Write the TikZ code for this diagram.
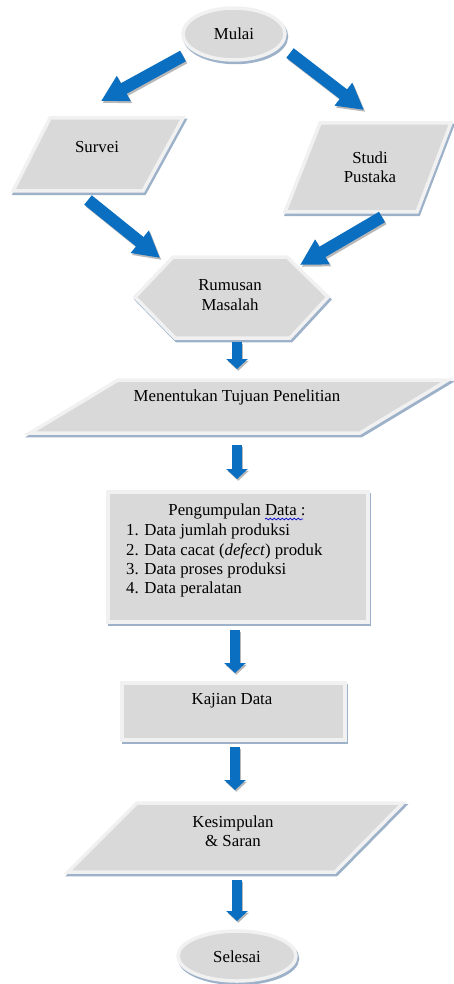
\documentclass[tikz,border=0pt]{standalone}
\usepackage{fontspec}
\setmainfont{Liberation Serif}
\usetikzlibrary{arrows.meta,decorations.pathmorphing}
\definecolor{fillg}{HTML}{D9D9D9}
\definecolor{edgeg}{HTML}{F1F1F1}
\definecolor{shad}{HTML}{9DB1C9}
\definecolor{arrb}{HTML}{0B6FC1}
\definecolor{arrs}{HTML}{B8B8B8}
\newcommand\bevelshape[1]{%
  \filldraw[shadowbox,transform canvas={shift={(1.5,2.5)}}] #1;
  \filldraw[shapebox] #1;}
\begin{document}
\begin{tikzpicture}[x=1pt,y=-1pt,
  font=\fontsize{16.8}{19.3}\selectfont,
  shapebox/.style={fill=fillg,draw=edgeg,line width=3.5pt,line join=miter},
  shadowbox/.style={fill=shad,draw=shad,line width=3.5pt,line join=miter},
  bigarrow/.style={draw=arrb,line width=12pt,-{Triangle[length=26pt,width=27pt]}},
  bigshadow/.style={draw=arrs,line width=12pt,-{Triangle[length=26pt,width=27pt]},transform canvas={shift={(1.5,2)}}},
  smallarrow/.style={draw=arrb,line width=10pt,-{Triangle[length=10pt,width=21pt]}},
  smallshadow/.style={draw=arrs,line width=10pt,-{Triangle[length=10pt,width=21pt]},transform canvas={shift={(1.2,1.8)}}},
  label/.style={inner sep=0pt,align=center,text=black}]
\useasboundingbox (0,0) rectangle (454,984);

% shapes
\filldraw[shadowbox,transform canvas={shift={(1.5,2.5)}}] (234,34) ellipse [x radius=51, y radius=26];
\filldraw[shapebox] (234,34) ellipse [x radius=51, y radius=26];
\bevelshape{(50,118)--(183,118)--(143,191)--(13,191)--cycle}
\bevelshape{(320,123)--(451,123)--(417,212)--(285,212)--cycle}
\bevelshape{(173,257)--(287,257)--(328,297)--(290,338)--(175,338)--(135,297)--cycle}
\bevelshape{(118,380)--(448,380)--(360,433)--(30,433)--cycle}
\bevelshape{(108,492)--(368,492)--(368,622)--(108,622)--cycle}
\bevelshape{(122,683)--(345,683)--(345,740)--(122,740)--cycle}
\bevelshape{(137,803)--(403,803)--(335,872)--(68,872)--cycle}
\filldraw[shadowbox,transform canvas={shift={(1.5,2.5)}}] (237,956) ellipse [x radius=59, y radius=25];
\filldraw[shapebox] (237,956) ellipse [x radius=59, y radius=25];

% labels
\node[label] (mulai) at (234,34) {Mulai};
\node[label] (survei) at (97,147) {Survei};
\node[label] (studi) at (370,167) {Studi\\Pustaka};
\node[label] (rumusan) at (230,295) {Rumusan\\Masalah};
\node[label] (tujuan) at (237,397) {Menentukan Tujuan Penelitian};
\node[label] (kumpul) at (237,511) {Pengumpulan Data :};
\node[label,anchor=north west,align=left] (list) at (126,524) {1. Data jumlah produksi\\2. Data cacat (\textit{defect}) produk\\3. Data proses produksi\\4. Data peralatan};
\node[label] (kajian) at (232,701) {Kajian Data};
\node[label] (simpul) at (233,831) {Kesimpulan\\\& Saran};
\node[label] (selesai) at (237,957) {Selesai};
\draw[blue!80!black,line width=0.7pt,decorate,decoration={snake,amplitude=0.9pt,segment length=4pt}] (265,519)--(303,519);

% arrow end points
\coordinate (a1s) at (183,56); \coordinate (a1e) at (101,101);
\coordinate (a2s) at (290,53); \coordinate (a2e) at (364,110);
\coordinate (a3s) at (88,200); \coordinate (a3e) at (160,258);
\coordinate (a4s) at (382,217); \coordinate (a4e) at (300,265);
\coordinate (a5s) at (237,342); \coordinate (a5e) at (237,369);
\coordinate (a6s) at (237,445); \coordinate (a6e) at (237,479);
\coordinate (a7s) at (235,630); \coordinate (a7e) at (235,673);
\coordinate (a8s) at (235,747); \coordinate (a8e) at (235,790);
\coordinate (a9s) at (237,880); \coordinate (a9e) at (237,921);

% arrows
\foreach \i in {1,2,3,4}{\draw[bigshadow] (a\i s) -- (a\i e);}
\foreach \i in {1,2,3,4}{\draw[bigarrow] (a\i s) -- (a\i e);}
\foreach \i in {5,6,7,8,9}{\draw[smallshadow] (a\i s) -- (a\i e);}
\foreach \i in {5,6,7,8,9}{\draw[smallarrow] (a\i s) -- (a\i e);}
\end{tikzpicture}
\end{document}
